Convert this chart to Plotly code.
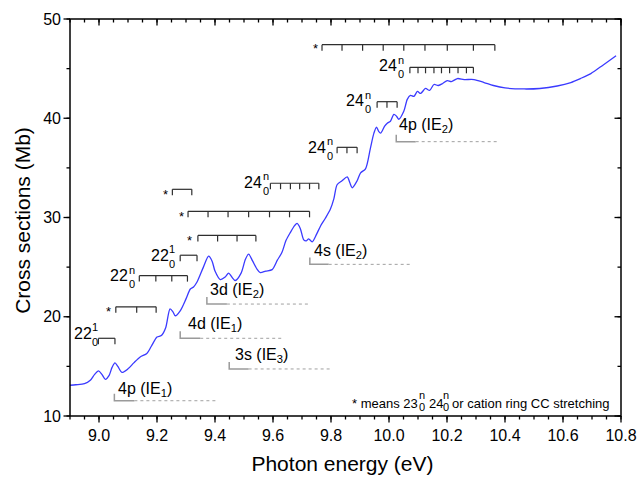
import plotly.graph_objects as go

# ---------------------------------------------------------------- data
# Absolute photoabsorption cross section (Mb) vs photon energy (eV)
energy_ev = [8.90, 8.92, 8.95, 8.97, 8.985, 8.998, 9.010, 9.022, 9.035, 9.045,
             9.055, 9.065, 9.079, 9.100, 9.120, 9.142, 9.165, 9.180, 9.200, 9.215,
             9.230, 9.245, 9.255, 9.263, 9.280, 9.300, 9.315, 9.326, 9.338, 9.360,
             9.378, 9.390, 9.400, 9.418, 9.435, 9.447, 9.458, 9.470, 9.490, 9.505,
             9.516, 9.530, 9.545, 9.556, 9.575, 9.597, 9.615, 9.631, 9.645, 9.660,
             9.675, 9.683, 9.694, 9.706, 9.715, 9.723, 9.735, 9.750, 9.764, 9.780,
             9.798, 9.810, 9.821, 9.838, 9.856, 9.865, 9.873, 9.890, 9.902, 9.919,
             9.936, 9.948, 9.957, 9.964, 9.971, 9.985, 9.994, 10.005, 10.017, 10.026,
             10.034, 10.051, 10.063, 10.074, 10.086, 10.098, 10.109, 10.126, 10.140, 10.155,
             10.170, 10.185, 10.201, 10.215, 10.236, 10.259, 10.293, 10.328, 10.360, 10.400,
             10.466, 10.520, 10.580, 10.627, 10.660, 10.696, 10.740, 10.783]
cross_section_mb = [13.1, 13.15, 13.25, 13.6, 14.2, 14.55, 14.2, 13.7, 14.1, 14.9,
                    15.35, 15.0, 14.4, 14.75, 15.35, 15.95, 16.3, 17.0, 17.95, 18.1,
                    18.9, 20.8, 20.5, 20.1, 20.6, 21.8, 22.8, 23.0, 23.5, 25.0,
                    26.1, 25.6, 24.6, 23.75, 24.0, 24.4, 24.0, 23.65, 24.4, 25.8,
                    26.3, 25.6, 24.8, 24.45, 24.6, 24.75, 25.7, 26.5, 27.7, 28.5,
                    29.2, 29.4, 28.9, 27.75, 27.65, 27.85, 27.55, 28.3, 29.15, 29.9,
                    30.85, 31.9, 33.3, 33.7, 34.1, 33.5, 33.0, 33.7, 34.5, 34.9,
                    37.0, 38.5, 39.1, 38.7, 38.5, 39.2, 39.5, 39.7, 40.4, 40.2,
                    39.9, 40.7, 41.9, 42.3, 42.2, 42.7, 42.5, 43.0, 42.8, 43.4,
                    43.3, 43.5, 43.8, 43.7, 44.0, 43.9, 43.9, 43.6, 43.3, 43.05,
                    42.95, 43.0, 43.25, 43.6, 44.0, 44.5, 45.4, 46.3]

# Vibrational progressions: energies of the members (eV) and the height of each bar (Mb)
prog_22_1_a = [8.998, 9.055]
prog_star_a = [9.058, 9.130, 9.197]
prog_22_n = [9.139, 9.196, 9.251, 9.305]
prog_22_1_b = [9.280, 9.338]
prog_star_b = [9.341, 9.409, 9.476, 9.541]
prog_star_c = [9.307, 9.376, 9.445, 9.516, 9.588, 9.657, 9.726]
prog_star_d = [9.253, 9.320]
prog_24_a = [9.591, 9.626, 9.660, 9.692, 9.726, 9.758]
prog_24_b = [9.821, 9.855, 9.890]
prog_24_c = [9.959, 9.993, 10.028]
prog_star_e = [9.769, 9.838, 9.909, 9.980, 10.051, 10.124, 10.201, 10.291, 10.365]
prog_24_d = [10.072, 10.100, 10.126, 10.155, 10.181, 10.209, 10.238, 10.267, 10.291]

progressions = [prog_22_1_a, prog_star_a, prog_22_n, prog_22_1_b, prog_star_b, prog_star_c,
                prog_star_d, prog_24_a, prog_24_b, prog_24_c, prog_star_e, prog_24_d]
prog_levels = [17.83, 21.0, 24.14, 26.2, 28.19, 30.62, 32.84, 33.45, 37.07, 41.67, 47.41, 45.13]
prog_mode = ["22", "*", "22", "22", "*", "*", "*", "24", "24", "24", "*", "24"]
prog_upper = ["1", "", "n", "1", "", "", "", "n", "n", "n", "", "n"]

# Rydberg series limits: orbital, ionisation energy index, onset, end of solid part, end of dotted part, height
ryd_orbital = ["4p", "4d", "3s", "3d", "4s", "4p"]
ryd_ie = ["1", "1", "3", "2", "2", "2"]
ryd_onset = [9.053, 9.280, 9.449, 9.372, 9.727, 10.025]
ryd_solid_end = [9.122, 9.349, 9.516, 9.441, 9.792, 10.092]
ryd_dot_end = [9.407, 9.631, 9.804, 9.727, 10.080, 10.374]
ryd_level = [11.54, 17.83, 14.74, 21.28, 25.28, 37.64]

# axes
x_range = [8.9, 10.8]
y_range = [10, 50]
x_ticks = [9.0, 9.2, 9.4, 9.6, 9.8, 10.0, 10.2, 10.4, 10.6, 10.8]
y_ticks = [10, 20, 30, 40, 50]
x_minor_ticks = [round(8.9 + 0.05 * i, 2) for i in range(39)]
y_minor_ticks = [10 + 5 * i for i in range(9)]

# ---------------------------------------------------------------- styling
W, H = 638, 479
FONT = "Arial, Liberation Sans, sans-serif"
FRAME_L, FRAME_R, FRAME_T, FRAME_B = 70, 621, 19, 416   # frame edges, px
OUT, IN = 8, 2          # room kept inside the plotting area around the frame, px
PAD = 2                 # annotation box padding (borderpad + borderwidth), px
BAR_DROP = 0.6          # length of the progression ticks (Mb)
RYD_RISE = 0.7          # height of the onset mark (Mb)
MAJOR_LEN, MINOR_LEN = 6.5, 3.5
# label offsets in px relative to the first member: (right edge of the label text, label centre)
prog_label_shift = [(-6.6, 5), (-7, -5), (-11, 0), (-11.7, 0), (-8.5, -5), (-7, -5),
                    (-6.5, -5), (-8.3, 1), (-10.7, 0), (-12.7, 0.7), (-6.7, -4), (-12.6, 1.5)]
# Rydberg labels: (left edge of text from onset, label centre above line), px
ryd_label_shift = [(3.7, 11.7), (8, 13.3), (6, 13), (3.3, 14), (4, 13.3), (2.6, 16)]

px_x = (FRAME_R - FRAME_L) / (x_range[1] - x_range[0])   # px per eV
px_y = (FRAME_B - FRAME_T) / (y_range[1] - y_range[0])   # px per Mb
x_view = [x_range[0] - OUT / px_x, x_range[1] + IN / px_x]
y_view = [y_range[0] - OUT / px_y, y_range[1] + IN / px_y]

fig = go.Figure()

fig.add_trace(go.Scatter(
    x=energy_ev, y=cross_section_mb, mode="lines",
    line=dict(color="#3a3aff", width=1.3, shape="spline", smoothing=0.8),
    showlegend=False, hoverinfo="skip"))

# progression combs
cx, cy = [], []
for members, lvl in zip(progressions, prog_levels):
    cx += [members[0], members[-1], None]
    cy += [lvl, lvl, None]
    for e in members:
        cx += [e, e, None]
        cy += [lvl, lvl - BAR_DROP, None]
fig.add_trace(go.Scatter(x=cx, y=cy, mode="lines", line=dict(color="#2e2e2e", width=1.2),
                         showlegend=False, hoverinfo="skip"))

# Rydberg limits: onset mark + solid part, then dotted continuation
sx, sy, dx, dy = [], [], [], []
for on, se, de, lvl in zip(ryd_onset, ryd_solid_end, ryd_dot_end, ryd_level):
    sx += [on, on, se, None]
    sy += [lvl + RYD_RISE, lvl, lvl, None]
    dx += [se, de, None]
    dy += [lvl, lvl, None]
fig.add_trace(go.Scatter(x=sx, y=sy, mode="lines", line=dict(color="#9a9a9a", width=1.5),
                         showlegend=False, hoverinfo="skip"))
fig.add_trace(go.Scatter(x=dx, y=dy, mode="lines", line=dict(color="#a0a0a0", width=1, dash="dot"),
                         showlegend=False, hoverinfo="skip"))

# axis frame and tick marks: outward on bottom / left, inward on top / right
x0, x1 = x_range
y0, y1 = y_range
fig.add_trace(go.Scatter(x=[x0, x1, x1, x0, x0], y=[y0, y0, y1, y1, y0], mode="lines",
                         line=dict(color="black", width=1.5), showlegend=False, hoverinfo="skip"))
tx, ty = [], []
for vals, ln in [(x_minor_ticks, MINOR_LEN), (x_ticks, MAJOR_LEN)]:
    for v in vals:
        tx += [v, v, None, v, v, None]
        ty += [y0, y0 - ln / px_y, None, y1, y1 - ln / px_y, None]
for vals, ln in [(y_minor_ticks, MINOR_LEN), (y_ticks, MAJOR_LEN)]:
    for v in vals:
        tx += [x0, x0 - ln / px_x, None, x1, x1 - ln / px_x, None]
        ty += [v, v, None, v, v, None]
fig.add_trace(go.Scatter(x=tx, y=ty, mode="lines", line=dict(color="black", width=1.3),
                         showlegend=False, hoverinfo="skip"))

annotations = []


def txt(x, y, text, size, xanchor="center", xshift=0, yshift=0):
    annotations.append(dict(
        x=x, y=y, xref="x", yref="y", text=text, showarrow=False,
        xanchor=xanchor, yanchor="middle", xshift=xshift, yshift=yshift,
        font=dict(family=FONT, size=size, color="black")))


for members, lvl, mode, up, (sx_, sy_) in zip(progressions, prog_levels, prog_mode,
                                              prog_upper, prog_label_shift):
    if mode == "*":
        txt(members[0], lvl, "*", 13, "center", sx_, sy_)
    else:
        txt(members[0], lvl, mode, 16, "right", sx_ + PAD, sy_)
        txt(members[0], lvl, "0", 11, "left", sx_ - PAD + 0.5, sy_ - 8.5)
        txt(members[0], lvl, up, 11, "left", sx_ - PAD + 0.5, sy_ + 6)

for orb, ie, on, lvl, (sx_, sy_) in zip(ryd_orbital, ryd_ie, ryd_onset, ryd_level, ryd_label_shift):
    txt(on, lvl, f"{orb} (IE<sub>{ie}</sub>)", 16, "left", sx_ - PAD, sy_)

# footnote explaining the asterisk
NOTE_Y = 11.31
txt(10.1076, NOTE_Y, "* means 23", 13, "right")
txt(10.0955, NOTE_Y, "n", 11, "left", 0, 8)
txt(10.0955, NOTE_Y, "0", 11, "left", 0, -4)
txt(10.1921, NOTE_Y, "24", 13, "right")
txt(10.1800, NOTE_Y, "n", 11, "left", 0, 8)
txt(10.1800, NOTE_Y, "0", 11, "left", 0, -4)
txt(10.2111, NOTE_Y, "or cation ring CC stretching", 13, "left")

fig.update_layout(
    width=W, height=H,
    margin=dict(l=FRAME_L - OUT, r=W - FRAME_R - IN, t=FRAME_T - IN, b=H - FRAME_B - OUT,
                autoexpand=False),
    paper_bgcolor="white", plot_bgcolor="white",
    font=dict(family=FONT, size=16, color="black"),
    annotations=annotations,
    xaxis=dict(range=x_view, tickvals=x_ticks, ticktext=[f"{v:.1f}" for v in x_ticks],
               ticks="", ticklabelstandoff=0, showgrid=False, zeroline=False,
               showline=False, automargin=False, tickfont=dict(size=16),
               title=dict(text="Photon energy (eV)", font=dict(size=21), standoff=13)),
    yaxis=dict(range=y_view, tickvals=y_ticks, ticks="", ticklabelstandoff=0,
               showgrid=False, zeroline=False, showline=False, automargin=False,
               tickfont=dict(size=16),
               title=dict(text="Cross sections (Mb)", font=dict(size=21), standoff=6)),
)

fig.write_html("out.html")
